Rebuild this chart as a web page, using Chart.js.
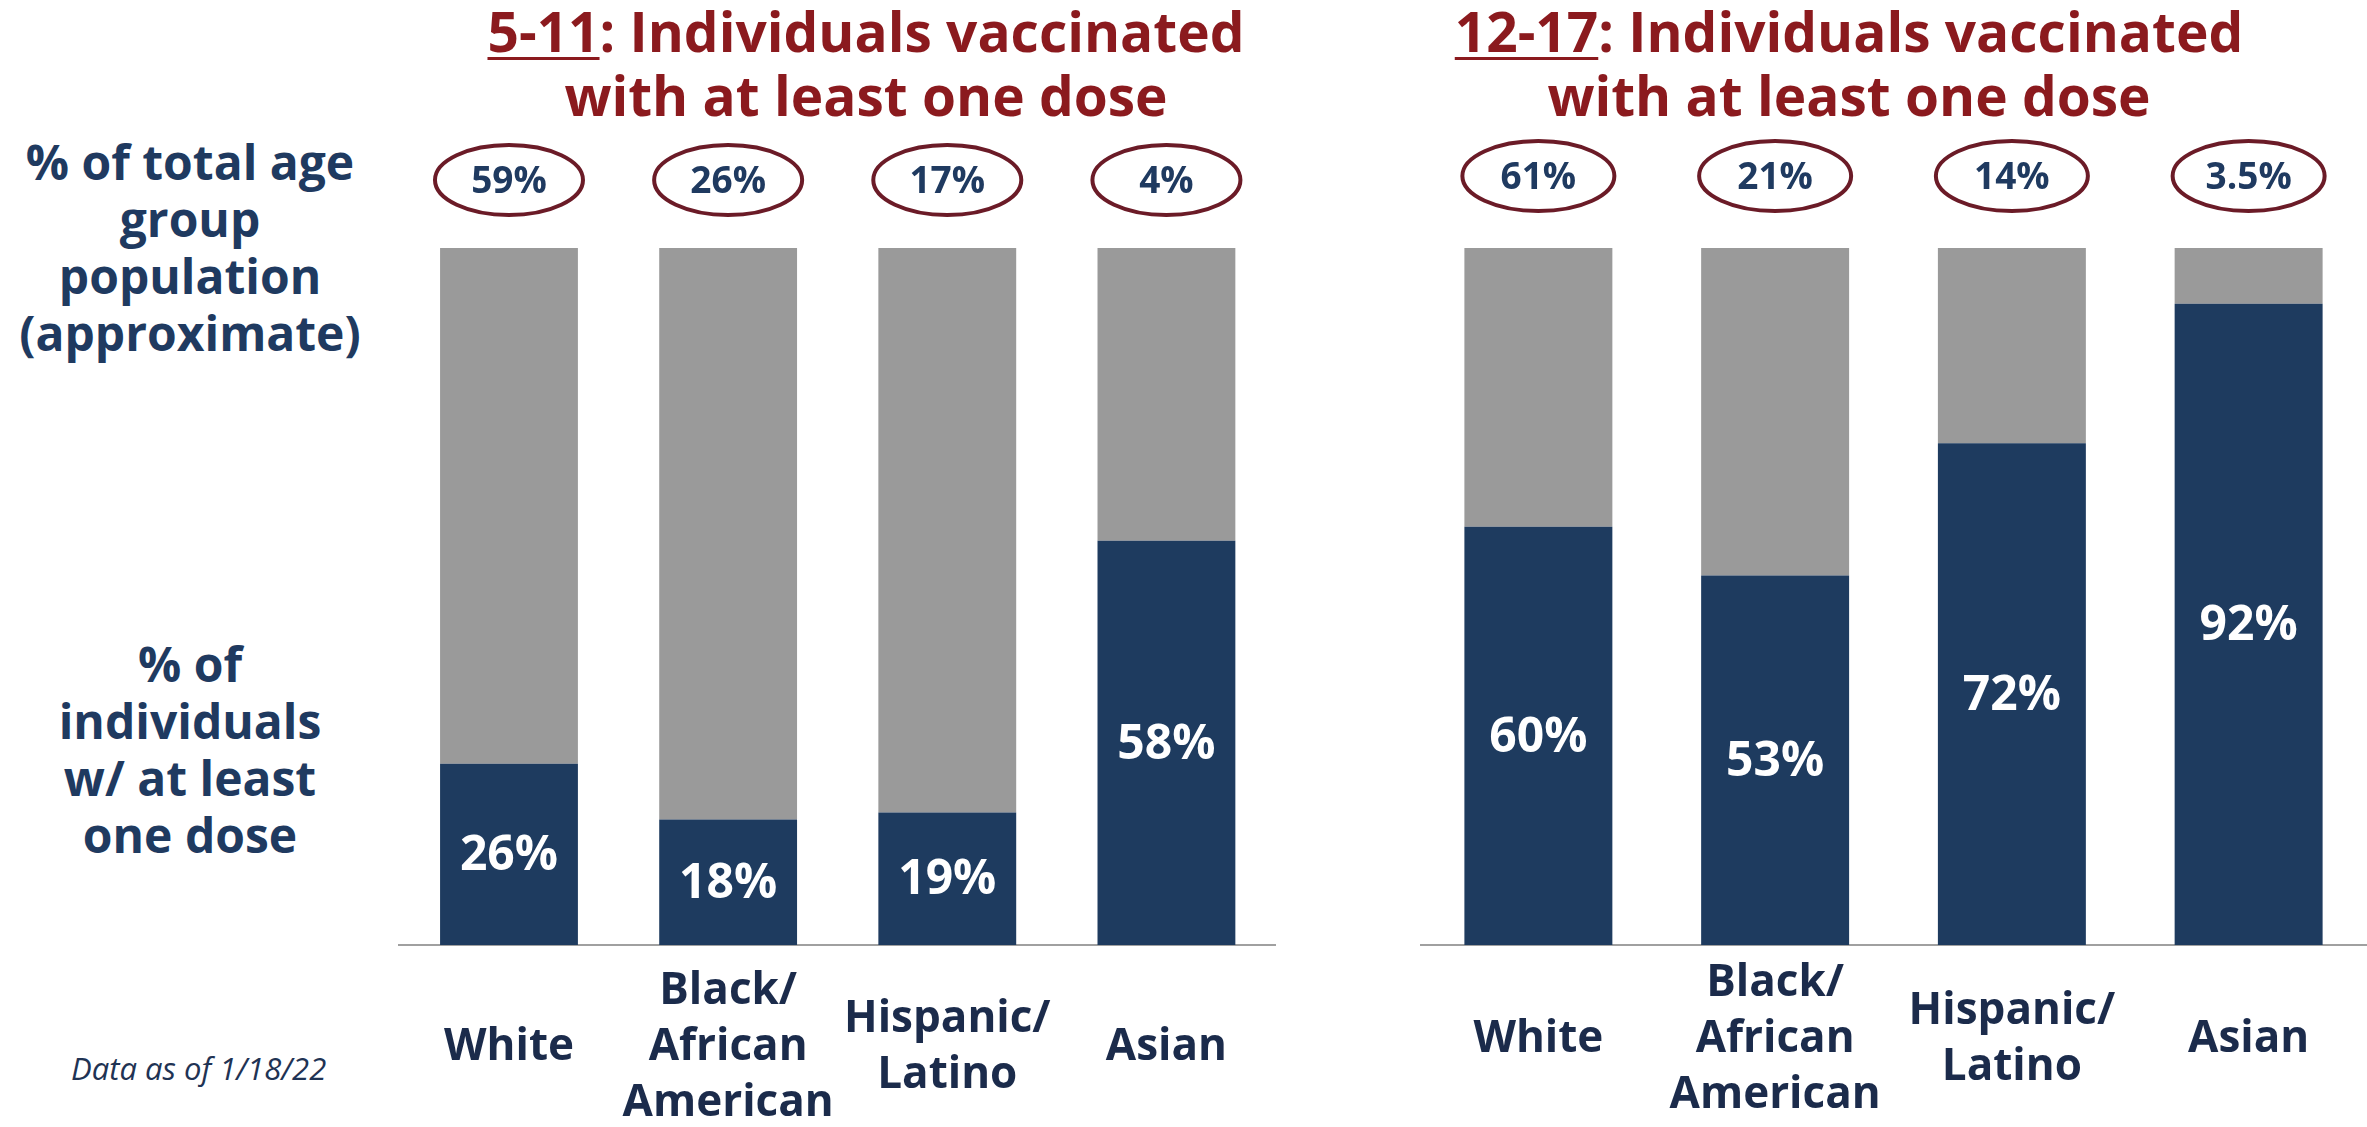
<!DOCTYPE html>
<html>
<head>
<meta charset="utf-8">
<script src="https://cdn.jsdelivr.net/npm/chart.js@4.4.1/dist/chart.umd.min.js"></script>
<style>
  body { margin:0; width:2367px; height:1127px; background:#fff; position:relative; overflow:hidden; font-family:'Open Sans', sans-serif; }
  .title { position:absolute; top:-1px; width:1000px; text-align:center; font-weight:700; font-size:55px; line-height:64px; color:#8b1a1e; }
  .title u { text-decoration-thickness:3px; text-underline-offset:5px; }
  .side { position:absolute; left:0; width:380px; text-align:center; font-weight:700; font-size:48px; line-height:57px; color:#1f3a60; }
  .note { position:absolute; left:71px; top:1048px; font-style:italic; font-size:31px; line-height:40px; color:#1f3354; }
  canvas { position:absolute; top:0; }
</style>
</head>
<body>

<div class="title" style="left:366px"><u>5-11</u>: Individuals vaccinated<br>with at least one dose</div>
<div class="title" style="left:1349px"><u>12-17</u>: Individuals vaccinated<br>with at least one dose</div>

<div class="side" style="top:133px">% of total age<br>group<br>population<br>(approximate)</div>
<div class="side" style="top:635px">% of<br>individuals<br>w/ at least<br>one dose</div>

<div class="note">Data as of 1/18/22</div>

<canvas id="chart511" width="878" height="1127" style="left:398px"></canvas>
<canvas id="chart1217" width="947" height="1127" style="left:1420px"></canvas>

<script>
// groups on the x axis
const categories = [['White'], ['Black/', 'African', 'American'], ['Hispanic/', 'Latino'], ['Asian']];

// 5-11 year olds
const vaccinated511 = [26, 18, 19, 58];
const population511 = [59, 26, 17, 4];

// 12-17 year olds
const vaccinated1217 = [60, 53, 72, 92];
const population1217 = [61, 21, 14, 3.5];

const NAVY = '#1e3b5f';
const GREY = '#9a9a9a';

// white % label in the middle of the navy part
const barLabels = {
  id: 'barLabels',
  afterDatasetsDraw(chart) {
    const ctx = chart.ctx;
    const vals = chart.data.datasets[0].data;
    ctx.save();
    ctx.fillStyle = '#ffffff';
    ctx.font = 'bold 48px "Open Sans"';
    ctx.textAlign = 'center';
    ctx.textBaseline = 'middle';
    chart.getDatasetMeta(0).data.forEach((bar, i) => {
      ctx.fillText(vals[i] + '%', bar.x, (bar.y + bar.base) / 2 + 2);
    });
    ctx.restore();
  }
};

// ovals with population share above each bar
const popRings = {
  id: 'popRings',
  afterDraw(chart, args, opts) {
    const ctx = chart.ctx;
    ctx.save();
    chart.getDatasetMeta(0).data.forEach((bar, i) => {
      ctx.beginPath();
      ctx.ellipse(bar.x, opts.y, opts.rx, 35, 0, 0, Math.PI * 2);
      ctx.fillStyle = '#ffffff';
      ctx.fill();
      ctx.lineWidth = 4;
      ctx.strokeStyle = '#6b1b27';
      ctx.stroke();
      ctx.fillStyle = '#1f3a60';
      ctx.font = 'bold 37px "Open Sans"';
      ctx.textAlign = 'center';
      ctx.textBaseline = 'middle';
      ctx.fillText(opts.values[i] + '%', bar.x, opts.y + 2);
    });
    ctx.restore();
  }
};

function makeChart(id, vacc, pop, barPct, ringY, ringRx, labelPad) {
  new Chart(document.getElementById(id), {
    type: 'bar',
    data: {
      labels: categories,
      datasets: [
        { label: 'vaccinated', data: vacc, backgroundColor: NAVY, barPercentage: barPct, categoryPercentage: 1 },
        { label: 'rest', data: vacc.map(v => 100 - v), backgroundColor: GREY, barPercentage: barPct, categoryPercentage: 1 }
      ]
    },
    options: {
      responsive: false,
      animation: false,
      layout: { padding: { top: 248, left: 0, right: 0, bottom: 0 } },
      plugins: {
        legend: { display: false },
        tooltip: { enabled: false },
        popRings: { values: pop, y: ringY, rx: ringRx }
      },
      scales: {
        y: { stacked: true, display: false, min: 0, max: 100 },
        x: {
          stacked: true,
          grid: { display: false, drawTicks: false },
          border: { display: true, color: '#a0a0a0', width: 2 },
          ticks: {
            color: '#1b2b4b',
            font: { family: 'Open Sans', weight: 'bold', size: 44, lineHeight: '56px' },
            padding: labelPad,
            crossAlign: 'center',
            maxRotation: 0,
            autoSkip: false
          },
          afterFit: s => { s.height = 182; }
        }
      }
    },
    plugins: [barLabels, popRings]
  });
}

makeChart('chart511', vaccinated511, population511, 0.629, 180, 74, 46);
makeChart('chart1217', vaccinated1217, population1217, 0.625, 176, 76, 38);
</script>
</body>
</html>
